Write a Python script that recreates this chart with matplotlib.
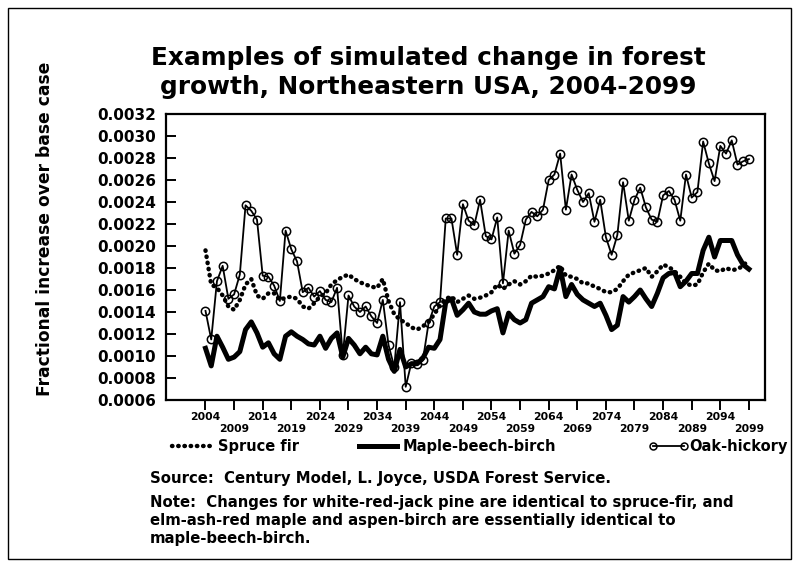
import numpy as np
import matplotlib.pyplot as plt
from matplotlib.lines import Line2D
from matplotlib.patches import Rectangle

plt.rcParams['font.family'] = 'DejaVu Sans'
plt.rcParams['font.weight'] = 'bold'

years = np.arange(2004, 2100)

# values, in units of 0.0001
spruce_fir = [
    19.6, 16.5, 16.2, 15.5, 14.5, 14.2, 15.1, 16.5, 17.0, 15.5,   # 2004-2013
    15.2, 15.7, 15.7, 15.1, 15.3, 15.4, 15.2, 14.5, 14.3, 14.8,   # 2014-2023
    15.4, 15.7, 16.5, 16.9, 17.2, 17.4, 17.0, 16.7, 16.5, 16.3,   # 2024-2033
    16.2, 17.0, 15.0, 13.8, 13.3, 13.0, 12.6, 12.4, 12.7, 13.1,   # 2034-2043
    13.8, 14.6, 15.2, 15.4, 14.9, 15.2, 15.5, 15.2, 15.3, 15.5,   # 2044-2053
    15.8, 16.5, 16.1, 16.5, 16.8, 16.5, 16.8, 17.3, 17.2, 17.3,   # 2054-2063
    17.5, 17.8, 18.2, 17.3, 17.2, 17.0, 16.6, 16.6, 16.3, 16.1,   # 2064-2073
    15.8, 15.8, 16.1, 16.8, 17.4, 17.6, 17.8, 18.0, 17.2, 17.7,   # 2074-2083
    18.3, 18.1, 17.7, 17.2, 16.6, 16.4, 16.5, 17.6, 18.4, 17.8,   # 2084-2093
    17.7, 18.0, 17.8, 17.9, 18.2, 18.8,                           # 2094-2099
]
maple_beech_birch = [
    10.7, 9.1, 11.8, 10.8, 9.7, 9.9, 10.4, 12.4, 13.1, 12.1,
    10.8, 11.2, 10.2, 9.7, 11.8, 12.2, 11.8, 11.5, 11.1, 11.0,
    11.8, 10.7, 11.6, 12.1, 9.9, 11.6, 11.0, 10.2, 10.8, 10.2,
    10.1, 11.8, 9.7, 8.6, 10.6, 9.0, 9.3, 9.3, 9.8, 10.8,
    10.7, 11.5, 14.9, 15.2, 13.7, 14.2, 14.8, 14.0, 13.8, 13.8,
    14.1, 14.3, 12.1, 13.9, 13.3, 13.0, 13.3, 14.8, 15.1, 15.4,
    16.3, 16.1, 18.0, 15.4, 16.5, 15.6, 15.1, 14.8, 14.5, 14.8,
    13.7, 12.4, 12.8, 15.4, 14.9, 15.4, 16.0, 15.2, 14.5, 15.7,
    17.1, 17.5, 17.6, 16.3, 16.8, 17.5, 17.5, 19.6, 20.8, 19.0,
    20.5, 20.5, 20.5, 19.2, 18.3, 17.9,
]
oak_hickory = [
    14.1, 11.5, 16.8, 18.2, 15.2, 15.6, 17.4, 23.7, 23.2, 22.4,
    17.3, 17.2, 16.4, 15.0, 21.4, 19.7, 18.6, 15.8, 16.2, 15.4,
    15.9, 15.1, 14.9, 16.2, 10.1, 15.5, 14.5, 14.0, 14.5, 13.6,
    13.0, 15.1, 11.0, 9.0, 14.9, 7.2, 9.4, 9.3, 9.6, 13.0,
    14.5, 14.9, 22.5, 22.5, 19.2, 23.8, 22.3, 21.9, 24.2, 20.9,
    20.6, 22.6, 16.6, 21.4, 19.3, 20.1, 22.4, 23.1, 22.7, 23.3,
    26.0, 26.5, 28.4, 23.3, 26.5, 25.1, 24.0, 24.8, 22.2, 24.2,
    20.8, 19.2, 21.0, 25.8, 22.3, 24.2, 25.3, 23.5, 22.4, 22.2,
    24.6, 25.0, 24.2, 22.3, 26.5, 24.4, 24.9, 29.5, 27.5, 25.9,
    29.1, 28.4, 29.6, 27.4, 27.7, 27.9,
]

spruce = np.array(spruce_fir) * 1e-4
maple = np.array(maple_beech_birch) * 1e-4
oak = np.array(oak_hickory) * 1e-4

W, H = 799, 567
fig = plt.figure(figsize=(W / 100, H / 100), dpi=100)
fig.patch.set_facecolor('white')

# outer frame of the figure
fig.add_artist(Rectangle((8 / W, 8 / H), (791 - 8) / W, (559 - 8) / H,
                         transform=fig.transFigure, fill=False, lw=1.0, ec='black'))

left, right, top, bottom = 166, 765, 114, 400
ax = fig.add_axes([left / W, 1 - bottom / H, (right - left) / W, (bottom - top) / H])

ax.plot(years, spruce, color='black', lw=3.2, ls=(0, (0.1, 1.3)),
        dash_capstyle='round', zorder=2)
ax.plot(years, maple, color='black', lw=3.6, solid_joinstyle='round', zorder=3)
ax.plot(years, oak, color='black', lw=1.3, marker='o', ms=6, mfc='none',
        mec='black', mew=1.1, zorder=4)

x0 = 2004 + (left - 205.5) / 5.72
x1 = 2004 + (right - 205.5) / 5.72
ax.set_xlim(x0, x1)
ax.set_ylim(0.0006, 0.0032)

ax.set_yticks(np.arange(0.0006, 0.00321, 0.0002))
ax.set_yticklabels(['%.4f' % v for v in np.arange(0.0006, 0.00321, 0.0002)],
                   fontsize=11, fontweight='bold')
ax.tick_params(axis='y', direction='in', length=7, width=1.4, pad=7)

xt = np.arange(2004, 2100, 5)
xl = [str(y) if i % 2 == 0 else '\n' + str(y) for i, y in enumerate(xt)]
ax.set_xticks(xt)
ax.set_xticklabels(xl, fontsize=7.8, fontweight='bold', linespacing=1.15)
ax.tick_params(axis='x', direction='out', length=7, width=1.4, pad=2)

for s in ax.spines.values():
    s.set_linewidth(1.6)

fig.text(45 / W, 1 - 229 / H, 'Fractional increase over base case', rotation=90,
         fontsize=12.3, fontweight='bold', ha='center', va='center')

fig.text(428 / W, 1 - 72.5 / H,
         'Examples of simulated change in forest\ngrowth, Northeastern USA, 2004-2099',
         fontsize=17.8, fontweight='bold', ha='center', va='center', linespacing=1.3)

# legend row
ly = 1 - 446 / H
fig.add_artist(Line2D([172 / W, 212 / W], [ly, ly], transform=fig.transFigure,
                      color='black', lw=3.2, ls=(0, (0.1, 1.3)), dash_capstyle='round'))
fig.text(218 / W, ly, 'Spruce fir', fontsize=10.5, fontweight='bold', va='center')
fig.add_artist(Line2D([359 / W, 397 / W], [ly, ly], transform=fig.transFigure,
                      color='black', lw=3.6))
fig.text(403 / W, ly, 'Maple-beech-birch', fontsize=10.5, fontweight='bold', va='center')
fig.add_artist(Line2D([653 / W, 684 / W], [ly, ly], transform=fig.transFigure,
                      color='black', lw=1.3, marker='o', ms=5, mfc='none', mew=1.1))
fig.text(689 / W, ly, 'Oak-hickory', fontsize=10.5, fontweight='bold', va='center')

notes = [
    (478, 'Source:  Century Model, L. Joyce, USDA Forest Service.'),
    (503, 'Note:  Changes for white-red-jack pine are identical to spruce-fir, and'),
    (521, 'elm-ash-red maple and aspen-birch are essentially identical to'),
    (539, 'maple-beech-birch.'),
]
for yy, txt in notes:
    fig.text(150 / W, 1 - yy / H, txt, fontsize=10.7, fontweight='bold', va='center')

fig.savefig('out.png', dpi=100)
